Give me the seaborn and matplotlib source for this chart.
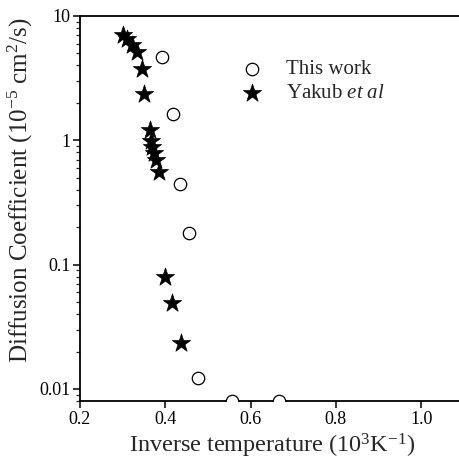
import numpy as np
import pandas as pd
import seaborn as sns
import matplotlib.pyplot as plt
from matplotlib.ticker import FixedLocator, FixedFormatter, NullFormatter

# Data
this_work_x = [0.392, 0.418, 0.434, 0.456, 0.477, 0.557, 0.667]
this_work_d = [4.66, 1.63, 0.443, 0.181, 0.0123, 0.0080, 0.0080]

yakub_x = [0.300, 0.311, 0.322, 0.333, 0.346, 0.349, 0.363, 0.366, 0.370,
           0.373, 0.379, 0.385, 0.400, 0.416, 0.436]
yakub_d = [7.0, 6.5, 5.8, 5.1, 3.75, 2.35, 1.22, 0.98, 0.89, 0.79, 0.70,
           0.56, 0.079, 0.049, 0.0235]

x_ticks = [0.2, 0.4, 0.6, 0.8, 1.0]
x_tick_labels = ['0.2', '0.4', '0.6', '0.8', '1.0']
y_ticks = [0.01, 0.1, 1, 10]
y_tick_labels = ['0.01', '0.1', '1', '10']

sns.set_style('ticks')
plt.rcParams['font.family'] = ['Liberation Serif', 'DejaVu Serif']
plt.rcParams['mathtext.fontset'] = 'custom'
plt.rcParams['mathtext.rm'] = 'Liberation Serif'
plt.rcParams['mathtext.it'] = 'Liberation Serif:italic'

df_this = pd.DataFrame({'x': this_work_x, 'D': this_work_d})
df_yakub = pd.DataFrame({'x': yakub_x, 'D': yakub_d})

fig = plt.figure(figsize=(4.6, 4.59), dpi=100)
ax = fig.add_axes([80 / 460, 1 - 401 / 459, 383.8 / 460, 385 / 459])

sns.scatterplot(data=df_this, x='x', y='D', ax=ax, marker='o', s=80,
                facecolor='white', edgecolor='black', linewidth=0.9,
                label='This work', zorder=3, clip_on=True)
sns.scatterplot(data=df_yakub, x='x', y='D', ax=ax, marker='*', s=190,
                color='black', edgecolor='black', linewidth=0.5,
                label='Yakub $\\it{et\\ al}$', zorder=3)

ax.set_yscale('log')
ax.set_xlim(0.2, 1.1)
ax.set_ylim(0.008, 10)

ax.xaxis.set_major_locator(FixedLocator(x_ticks))
ax.xaxis.set_major_formatter(FixedFormatter(x_tick_labels))
ax.yaxis.set_major_locator(FixedLocator(y_ticks))
ax.yaxis.set_major_formatter(FixedFormatter(y_tick_labels))
minor = [m * 10.0 ** e for e in range(-3, 1) for m in range(2, 10)]
ax.yaxis.set_minor_locator(FixedLocator(minor))
ax.yaxis.set_minor_formatter(NullFormatter())
ax.xaxis.set_minor_locator(FixedLocator([]))

ax.tick_params(axis='both', which='major', direction='out', length=5,
               width=1.1, labelsize=13, colors='black', pad=2)
ax.tick_params(axis='y', which='minor', direction='out', length=3, width=0.9)

for side in ['left', 'bottom', 'top', 'right']:
    ax.spines[side].set_linewidth(1.3)
    ax.spines[side].set_color('black')

ax.set_xlabel('Inverse temperature (10$^{3}$K$^{-1}$)', fontsize=17.5, labelpad=3)
ax.set_ylabel('Diffusion Coefficient (10$^{-5}$ cm$^{2}$/s)', fontsize=18)
ax.yaxis.set_label_coords(-0.118, 0.548)

ax.legend(loc='upper left', bbox_to_anchor=(0.386, 0.908), frameon=False,
          fontsize=15, handletextpad=0.9, labelspacing=0.2,
          borderaxespad=0, handlelength=1.5)

fig.savefig('out.png', dpi=100)
